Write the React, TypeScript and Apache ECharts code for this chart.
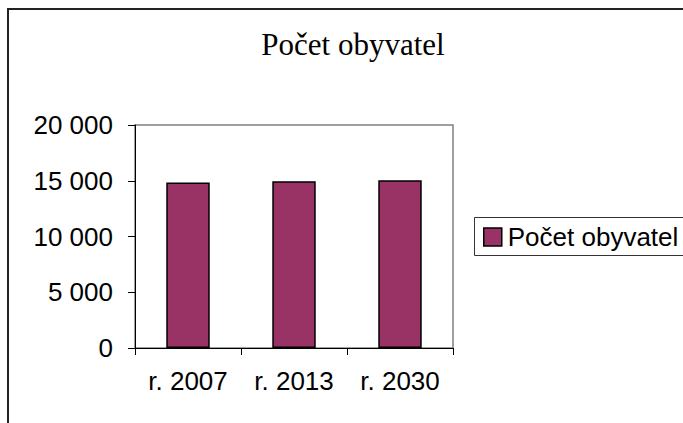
import React, { useEffect, useRef } from "react";
import * as echarts from "echarts";

const categories = ["r. 2007", "r. 2013", "r. 2030"];
const seriesName = "Počet obyvatel";
const values = [14850, 14960, 15040];
const titleText = "Počet obyvatel";

const fmt = (v: number) => {
  const s = String(Math.round(v));
  return s.replace(/\B(?=(\d{3})+(?!\d))/g, " ");
};

export default function App() {
  const ref = useRef<HTMLDivElement>(null);
  useEffect(() => {
    document.body.style.margin = "0";
    const chart = echarts.init(ref.current!, null, { renderer: "svg" });
    chart.setOption({
      animation: false,
      backgroundColor: "#ffffff",
      graphic: [
        {
          type: "rect",
          shape: { x: 8, y: 9, width: 720, height: 480 },
          style: { fill: "none", stroke: "#222", lineWidth: 2 },
          silent: true,
          z: -1,
        },
        {
          type: "text",
          x: 353,
          y: 44,
          style: {
            text: titleText,
            fontFamily: "Liberation Serif",
            fontSize: 31,
            fill: "#000",
            align: "center",
            verticalAlign: "middle",
          },
          silent: true,
        },
        {
          type: "rect",
          shape: { x: 474.5, y: 217.5, width: 260, height: 38 },
          style: { fill: "#fff", stroke: "#333", lineWidth: 1 },
          silent: true,
          z: 0,
        },
      ],
      legend: {
        left: 483,
        top: 223,
        padding: 0,
        icon: "rect",
        itemWidth: 18,
        itemHeight: 18,
        itemGap: 0,
        z: 5,
        itemStyle: { borderColor: "#000", borderWidth: 1.5 },
        textStyle: {
          fontFamily: "Liberation Sans",
          fontSize: 26,
          color: "#000",
          lineHeight: 28,
          padding: [0, 0, 0, 1],
        },
        data: [seriesName],
      },
      grid: {
        left: 135,
        top: 125,
        right: 230,
        bottom: 75,
        show: true,
        borderColor: "#808080",
        borderWidth: 1.5,
        backgroundColor: "#fff",
      },
      xAxis: {
        type: "category",
        data: categories,
        axisLine: { lineStyle: { color: "#000", width: 1 } },
        axisTick: { show: true, length: 7, lineStyle: { color: "#000" } },
        axisLabel: {
          fontFamily: "Liberation Sans",
          fontSize: 26,
          color: "#000",
          margin: 20,
        },
      },
      yAxis: {
        type: "value",
        min: 0,
        max: 20000,
        interval: 5000,
        splitLine: { show: false },
        axisLine: { show: true, lineStyle: { color: "#000", width: 1 } },
        axisTick: { show: true, length: 7, lineStyle: { color: "#000" } },
        axisLabel: {
          fontFamily: "Liberation Sans",
          fontSize: 26,
          color: "#000",
          margin: 22,
          formatter: (v: number) => fmt(v),
        },
      },
      series: [
        {
          name: seriesName,
          type: "bar",
          data: values,
          barWidth: "41%",
          itemStyle: { color: "#993366", borderColor: "#000", borderWidth: 1.5 },
        },
      ],
    });
    return () => chart.dispose();
  }, []);
  return <div ref={ref} style={{ width: 683, height: 423 }} />;
}
